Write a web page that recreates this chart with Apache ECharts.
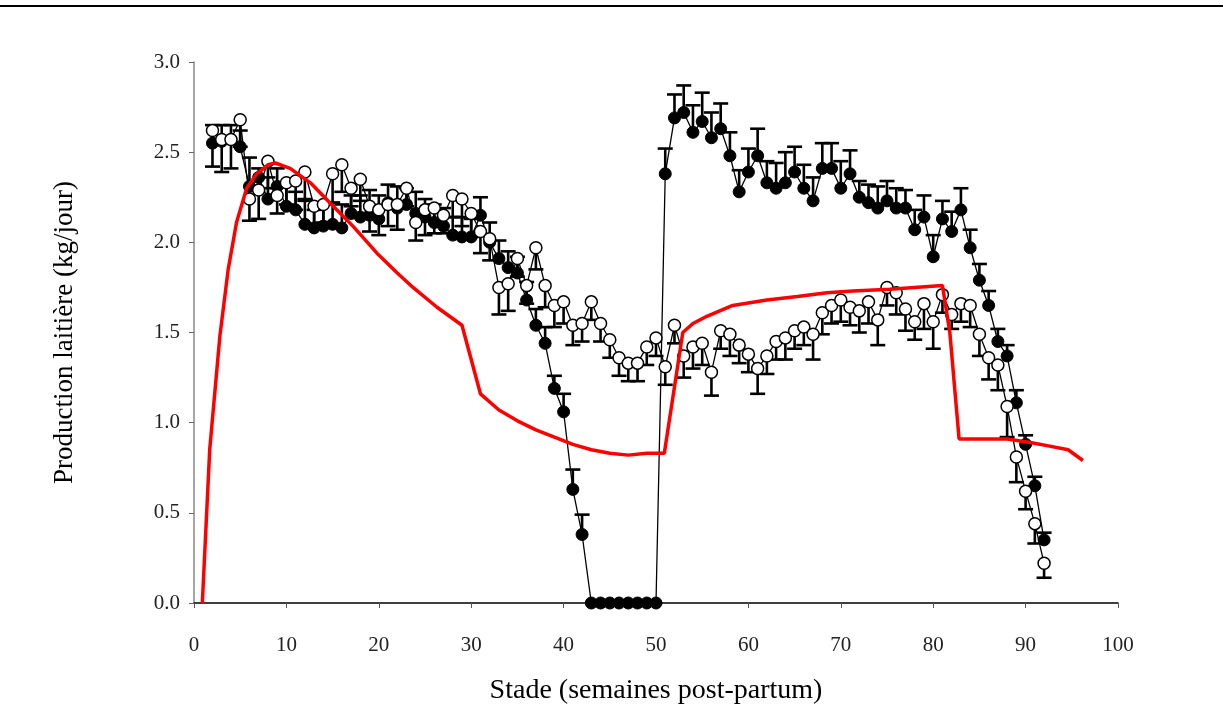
<!DOCTYPE html>
<html>
<head>
<meta charset="utf-8">
<script src="https://cdn.jsdelivr.net/npm/echarts@6/dist/echarts.min.js"></script>
<style>
html,body{margin:0;padding:0;background:#fff;}
#chart{width:1223px;height:718px;}
</style>
</head>
<body>
<div id="chart"></div>
<script>
// Weeks post-partum
var weeks = [2,3,4,5,6,7,8,9,10,11,12,13,14,15,16,17,18,19,20,21,22,23,24,25,26,27,28,29,30,31,32,33,34,35,36,37,38,39,40,41,42,43,44,45,46,47,48,49,50,51,52,53,54,55,56,57,58,59,60,61,62,63,64,65,66,67,68,69,70,71,72,73,74,75,76,77,78,79,80,81,82,83,84,85,86,87,88,89,90,91,92];

// Filled circles (black)
var filledVals = [2.55,2.56,2.57,2.53,2.31,2.36,2.24,2.31,2.20,2.18,2.10,2.08,2.09,2.10,2.08,2.16,2.14,2.15,2.13,2.22,2.19,2.21,2.16,2.14,2.11,2.09,2.04,2.03,2.03,2.15,2.00,1.91,1.86,1.83,1.68,1.54,1.44,1.19,1.06,0.63,0.38,0,0,0,0,0,0,0,0,2.38,2.69,2.72,2.61,2.67,2.58,2.63,2.48,2.28,2.39,2.48,2.33,2.30,2.33,2.39,2.30,2.23,2.41,2.41,2.30,2.38,2.25,2.22,2.19,2.23,2.19,2.19,2.07,2.14,1.92,2.13,2.06,2.18,1.97,1.79,1.65,1.45,1.37,1.11,0.88,0.65,0.35];
var filledErr = [0.10,0.09,0.08,0.09,0.16,0.05,0.12,0.10,0.12,0.10,0.13,0.10,0.12,0.12,0.13,0.10,0.12,0.14,0.13,0.10,0.12,0.09,0.12,0.10,0.10,0.10,0.10,0.11,0.10,0.10,0.11,0.10,0.09,0.09,0.10,0.09,0.09,0.07,0.10,0.11,0.11,0,0,0,0,0,0,0,0,0.14,0.13,0.15,0.15,0.16,0.14,0.14,0.13,0.12,0.13,0.15,0.12,0.14,0.17,0.14,0.13,0.13,0.14,0.14,0.15,0.13,0.09,0.10,0.12,0.11,0.11,0.10,0.11,0.12,0.12,0.10,0.11,0.12,0.10,0.09,0.08,0.07,0.06,0.07,0.05,0.05,0.04];

// Open circles (white)
var openVals = [2.62,2.57,2.57,2.68,2.24,2.29,2.45,2.26,2.33,2.34,2.39,2.20,2.21,2.38,2.43,2.30,2.35,2.20,2.18,2.21,2.21,2.30,2.11,2.18,2.19,2.15,2.26,2.24,2.16,2.06,2.02,1.75,1.77,1.91,1.76,1.97,1.76,1.65,1.67,1.54,1.55,1.67,1.55,1.46,1.36,1.33,1.33,1.42,1.47,1.31,1.54,1.37,1.42,1.44,1.28,1.51,1.49,1.43,1.38,1.30,1.37,1.45,1.47,1.51,1.53,1.49,1.61,1.65,1.68,1.64,1.62,1.67,1.57,1.75,1.72,1.63,1.56,1.66,1.56,1.71,1.60,1.66,1.65,1.49,1.36,1.32,1.09,0.81,0.62,0.44,0.22];
var openErr = [0.20,0.18,0.16,0.15,0.12,0.16,0.15,0.10,0.12,0.16,0.15,0.12,0.10,0.16,0.15,0.10,0.12,0.14,0.14,0.12,0.14,0.10,0.10,0.14,0.14,0.10,0.12,0.15,0.13,0.12,0.12,0.15,0.15,0.10,0.10,0.12,0.12,0.12,0.12,0.11,0.10,0.10,0.10,0.10,0.10,0.10,0.10,0.10,0.10,0.10,0.10,0.12,0.12,0.12,0.13,0.10,0.12,0.10,0.10,0.14,0.10,0.10,0.12,0.10,0.10,0.14,0.12,0.10,0.12,0.10,0.12,0.12,0.14,0.10,0.12,0.12,0.10,0.14,0.15,0.10,0.08,0.10,0.12,0.12,0.12,0.14,0.17,0.14,0.10,0.11,0.08];

// Red model curve
var redX = [0.9,1.7,2.8,3.7,4.6,5.7,6.8,8.0,8.8,10.4,12.6,14.7,17.2,19.8,22.0,23.7,26.3,29.0,31.0,33.0,35.0,37.0,39.0,41.0,43.0,45.0,47.0,49.0,50.9,52.9,54.0,55.5,58.3,62.0,65.3,68.5,71.3,75.3,81.0,81.8,82.8,88.0,90.5,92.6,94.6,96.2];
var redY = [0.00,0.85,1.48,1.85,2.11,2.30,2.38,2.43,2.44,2.41,2.33,2.22,2.09,1.94,1.83,1.75,1.64,1.54,1.16,1.07,1.01,0.96,0.92,0.88,0.85,0.83,0.82,0.83,0.83,1.50,1.55,1.59,1.65,1.68,1.70,1.72,1.73,1.74,1.76,1.50,0.91,0.91,0.89,0.87,0.85,0.79];

var xTicks = [0,10,20,30,40,50,60,70,80,90,100];
var yTicks = [0.0,0.5,1.0,1.5,2.0,2.5,3.0];

var FONT = '"Liberation Serif","DejaVu Serif",serif';

function pairs(xs, ys){ return xs.map(function(x,i){ return [x, ys[i]]; }); }
function triples(xs, ys, es){ return xs.map(function(x,i){ return [x, ys[i], es[i]]; }); }

function errRender(dir){
  return function(params, api){
    var x = api.value(0), y = api.value(1), e = api.value(2);
    if (!e) return null;
    var p0 = api.coord([x, y]);
    var p1 = api.coord([x, y + dir * e]);
    var st = {stroke:'#000', lineWidth:2.6};
    return {type:'group', children:[
      {type:'line', shape:{x1:p0[0], y1:p0[1], x2:p1[0], y2:p1[1]}, style:st},
      {type:'line', shape:{x1:p1[0]-7.5, y1:p1[1], x2:p1[0]+7.5, y2:p1[1]}, style:st}
    ]};
  };
}

var chart = echarts.init(document.getElementById('chart'), null, {renderer:'canvas'});
chart.setOption({
  backgroundColor:'#fff',
  animation:false,
  graphic:[{type:'line', shape:{x1:0,y1:6,x2:1223,y2:6}, style:{stroke:'#000', lineWidth:2}}],
  grid:{left:194, right:105, top:62, bottom:115, containLabel:false},
  xAxis:{
    type:'value', min:xTicks[0], max:xTicks[xTicks.length-1], interval:10,
    name:'Stade (semaines post-partum)', nameLocation:'middle', nameGap:74,
    nameTextStyle:{fontFamily:FONT, fontSize:28, color:'#000'},
    axisLine:{show:true, lineStyle:{color:'#000', width:1.5}},
    axisTick:{show:true, length:5, lineStyle:{color:'#555'}},
    axisLabel:{margin:32, fontFamily:FONT, fontSize:21, color:'#222'},
    splitLine:{show:false}
  },
  yAxis:{
    type:'value', min:yTicks[0], max:yTicks[yTicks.length-1], interval:0.5,
    name:'Production laitière (kg/jour)', nameLocation:'middle', nameGap:116,
    nameTextStyle:{fontFamily:FONT, fontSize:27, color:'#000'},
    axisLine:{show:true, lineStyle:{color:'#888', width:1.5}},
    axisTick:{show:true, length:5, lineStyle:{color:'#666'}},
    axisLabel:{margin:14, fontFamily:FONT, fontSize:21, color:'#222', formatter:function(v){return v.toFixed(1);}},
    splitLine:{show:false}
  },
  series:[
    {type:'custom', name:'errFilled', renderItem:errRender(1), data:triples(weeks, filledVals, filledErr), z:2, clip:false},
    {type:'custom', name:'errOpen', renderItem:errRender(-1), data:triples(weeks, openVals, openErr), z:2, clip:false},
    {type:'line', name:'filled', data:pairs(weeks, filledVals), symbol:'circle', symbolSize:12,
      itemStyle:{color:'#000', borderColor:'#000', borderWidth:1},
      lineStyle:{color:'#000', width:1.3}, z:3},
    {type:'line', name:'open', data:pairs(weeks, openVals), symbol:'circle', symbolSize:12,
      itemStyle:{color:'#fff', borderColor:'#000', borderWidth:1.5},
      lineStyle:{color:'#000', width:1.3}, z:4},
    {type:'line', name:'model', data:pairs(redX, redY), symbol:'none', smooth:false,
      lineStyle:{color:'#ff0000', width:3.5}, z:5}
  ]
});
</script>
</body>
</html>
